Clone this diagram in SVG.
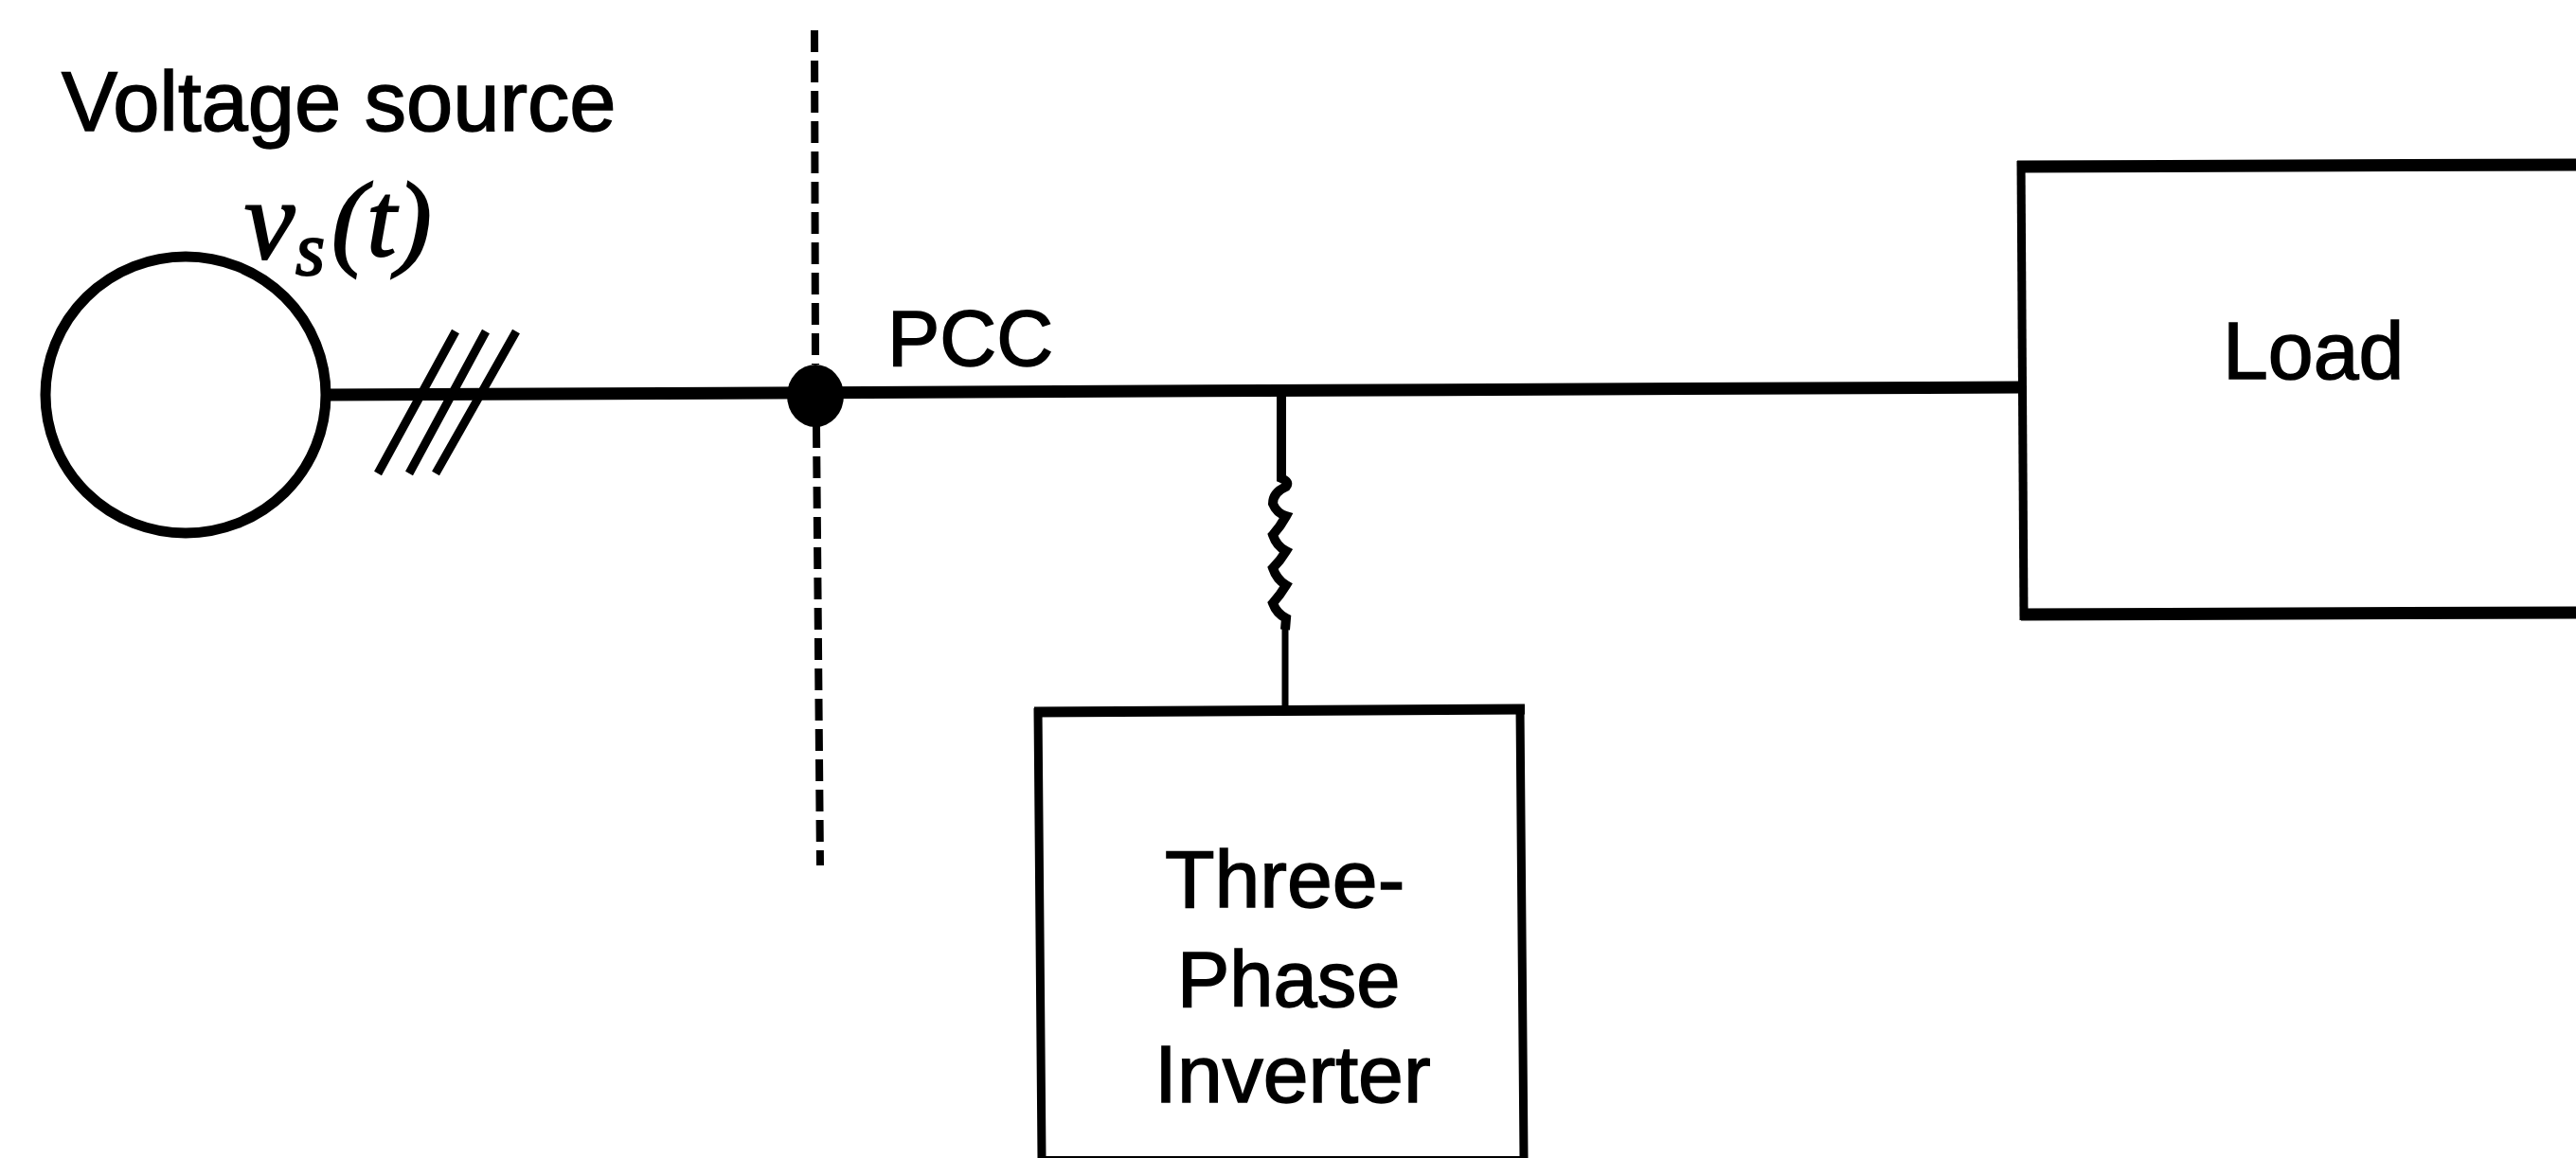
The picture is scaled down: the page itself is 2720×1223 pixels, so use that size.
<svg xmlns="http://www.w3.org/2000/svg" width="2720" height="1223" viewBox="0 0 2720 1223">
<style>
.l{fill:none;stroke:#000}
.t{font-family:"Liberation Sans",Arial,sans-serif;font-size:86px;fill:#000;stroke:#000;stroke-width:1.5px}
.m{font-family:"Liberation Serif","Times New Roman",serif;font-style:italic;fill:#000;stroke:#000;stroke-width:2px}
</style>
<rect width="2720" height="1223" fill="#fff"/>
<g id="connectors">
<path class="l" stroke-width="13" d="M347 417L2135 409"/>
<path class="l" stroke-width="8" d="M860 32L861 385M862 450L866 914" stroke-dasharray="23 9"/>
<path class="l" stroke-width="10" d="M1353 412V505Q1362 509 1358 514Q1344 520 1344 532Q1348 542 1358 545Q1352 556 1344 565Q1348 577 1358 582Q1352 592 1344 600Q1348 612 1358 618Q1352 628 1344 637Q1348 648 1358 653L1357 665"/>
<path class="l" stroke-width="7" d="M1357 660V751"/>
<path class="l" stroke-width="9" d="M481 350L399 500M513 350L432 500M545 350L460 500"/>
</g>
<g id="voltage-source">
<ellipse class="l" stroke-width="11" cx="196" cy="417" rx="148" ry="146" fill="#fff"/>
<text class="t" x="65" y="138" style="font-size:88.5px">Voltage source</text>
<text class="m" x="258" y="273" font-size="120">v</text>
<text class="m" x="312" y="290" font-size="80">s</text>
<text class="m" x="350" y="270" font-size="112">(t)</text>
</g>
<g id="pcc">
<ellipse cx="861" cy="418" rx="30" ry="33" fill="#000"/>
<text class="t" x="937" y="386" style="font-size:83px">PCC</text>
</g>
<g id="inverter">
<path class="l" stroke-width="11" d="M1092 752L1610 749"/>
<path class="l" stroke-width="9" d="M1096 748L1100 1223M1605 746L1609 1223"/>
<path class="l" stroke-width="8" d="M1096 1225H1612"/>
<text class="t" x="1230" y="958">Three-</text>
<text class="t" x="1243" y="1063" style="font-size:83px">Phase</text>
<text class="t" x="1219" y="1164">Inverter</text>
</g>
<g id="load">
<path class="l" stroke-width="13" d="M2720 174L2130 176M2134 649L2720 647"/>
<path class="l" stroke-width="9" d="M2134 170L2137 655"/>
<text class="t" x="2347" y="400">Load</text>
</g>
</svg>
